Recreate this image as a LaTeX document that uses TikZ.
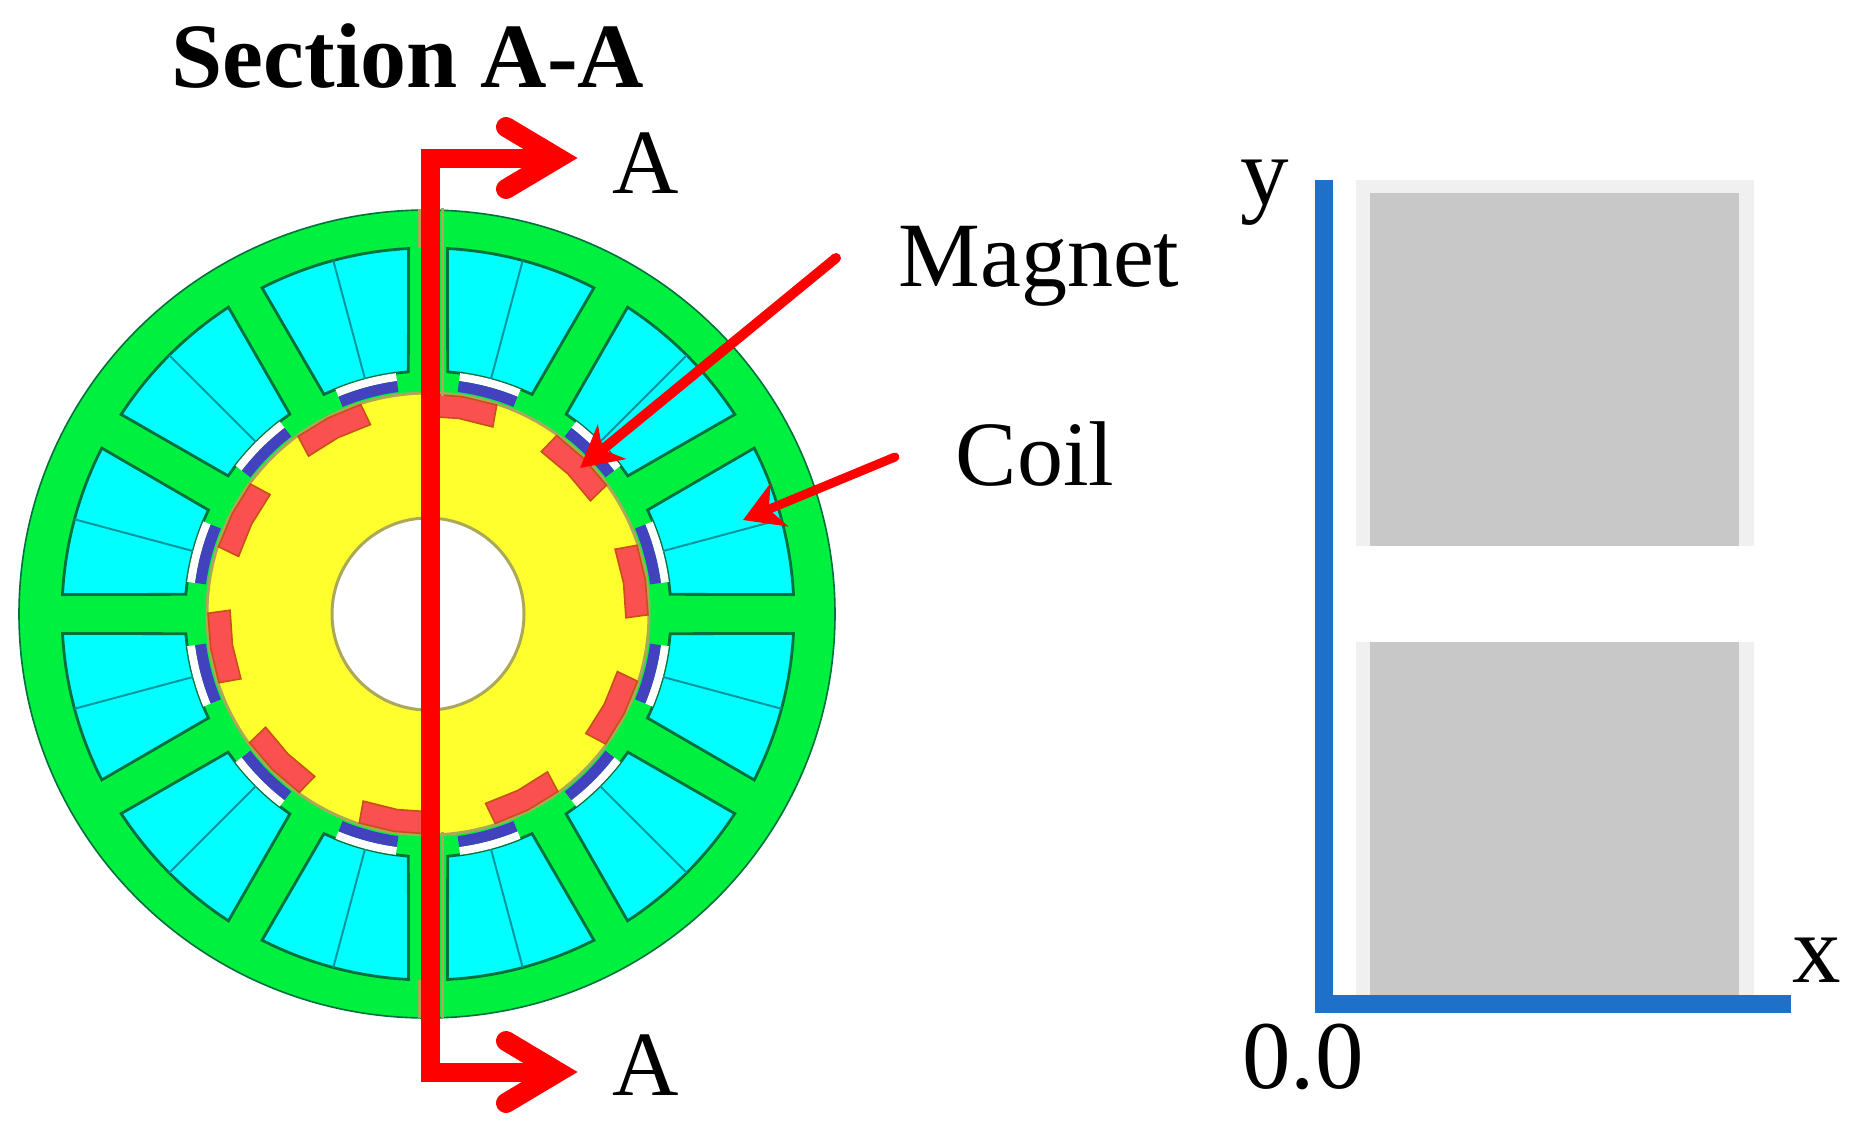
\documentclass[tikz,border=0pt]{standalone}
\usepackage{fontspec}
\setmainfont{Liberation Serif}
\usetikzlibrary{arrows.meta}
\definecolor{statorgreen}{RGB}{0,240,64}
\definecolor{slotedge}{RGB}{0,112,60}
\definecolor{coilcyan}{RGB}{0,255,255}
\definecolor{coilmid}{RGB}{0,150,160}
\definecolor{gapblue}{RGB}{66,66,190}
\definecolor{rotoryellow}{RGB}{255,255,45}
\definecolor{olive}{RGB}{172,168,90}
\definecolor{magnetred}{RGB}{250,80,80}
\definecolor{magnetedge}{RGB}{200,80,20}
\definecolor{axisblue}{RGB}{30,112,200}
\definecolor{lightgrey}{RGB}{240,240,240}
\definecolor{midgrey}{RGB}{200,200,200}
\tikzset{
  x=1pt,y=-1pt,
  label text/.style={inner sep=0pt,anchor=base,font=\fontsize{92}{92}\selectfont},
  axis text/.style={inner sep=0pt,anchor=base,font=\fontsize{97}{97}\selectfont},
  title text/.style={inner sep=0pt,anchor=base,font=\fontsize{92}{92}\selectfont\bfseries},
  redpath/.style={draw=red,line width=19pt,line join=miter},
  chevron/.style={draw=red,line width=20pt,line cap=round,line join=miter},
  pointer/.style={draw=red,line width=10pt,line cap=round},
  axisline/.style={draw=axisblue,line width=18pt,line join=miter},
  slotshape/.style={fill=coilcyan,draw=slotedge,line width=2.8pt,line join=miter},
  coilmidline/.style={draw=coilmid,line width=2pt},
  magnetshape/.style={fill=magnetred,draw=magnetedge,line width=1.6pt,line join=miter},
}
\begin{document}
\begin{tikzpicture}
\useasboundingbox (0,0) rectangle (1860,1135);
\fill[white] (0,0) rectangle (1860,1135);

% stator
\draw[fill=statorgreen,draw=slotedge,line width=1.6pt] (427,614) ellipse [x radius=408,y radius=404];

\begin{scope}[shift={(428,614)},y=1pt]
  % slots, coils, air gap pieces
  \foreach \k in {0,...,11}{
    \pgfmathsetmacro{\t}{30*\k}
    \pgfmathsetmacro{\aA}{\t+3.04}
    \pgfmathsetmacro{\aB}{\t+26.96}
    \pgfmathsetmacro{\bA}{\t+4.65}
    \pgfmathsetmacro{\bB}{\t+25.35}
    \pgfmathsetmacro{\cA}{\t+7.6}
    \pgfmathsetmacro{\cB}{\t+22.4}
    \pgfmathsetmacro{\m}{\t+15}
    \draw[slotshape] (\cA:243) -- (\bA:243) -- (\aA:366)
       arc[start angle=\aA,end angle=\aB,radius=366]
       -- (\bB:243) -- (\cB:243)
       arc[start angle=\cB,end angle=\cA,radius=243] -- cycle;
    \draw[coilmidline] (\m:243) -- (\m:366);
    \draw[draw=white,line width=8pt] (\cA:239) arc[start angle=\cA,end angle=\cB,radius=239];
    \draw[draw=gapblue,line width=11pt] (\cA:229.5) arc[start angle=\cA,end angle=\cB,radius=229.5];
  }
  % rotor
  \draw[fill=rotoryellow,draw=olive,line width=3pt] (0,0) circle[radius=221];
  % magnets
  \foreach \c in {81,45,9,-27,-63,-99,-135,-171,153,117}{
    \pgfmathsetmacro{\mA}{\c-9.2}
    \pgfmathsetmacro{\mB}{\c+9.2}
    \pgfmathsetmacro{\nA}{\c-10.1}
    \pgfmathsetmacro{\nB}{\c+10.1}
    \draw[magnetshape] (\mA:220) -- (\c:220) -- (\mB:220) -- (\nB:198) -- (\c:198) -- (\nA:198) -- cycle;
  }
  % bore
  \draw[fill=white,draw=olive,line width=3pt] (0,0) circle[radius=96];
\end{scope}

% thin olive cut lines next to the section line
\draw[olive,line width=3pt] (442.5,208) -- (442.5,396);
\draw[olive,line width=3pt] (442.5,832) -- (442.5,1018);
\draw[olive,line width=3pt] (419,209) -- (419,248);
\draw[olive,line width=3pt] (419,980) -- (419,1018);

% section line
\coordinate (secTopEnd) at (558,158);
\coordinate (secTop) at (430.5,158);
\coordinate (secBot) at (430.5,1072);
\coordinate (secBotEnd) at (558,1072);
\coordinate (chevTopA) at (506,127);
\coordinate (chevTopB) at (506,189);
\coordinate (chevBotA) at (506,1041);
\coordinate (chevBotB) at (506,1103);
\draw[redpath] (secTopEnd) -- (secTop) -- (secBot) -- (secBotEnd);
\draw[chevron] (chevTopA) -- (secTopEnd) -- (chevTopB);
\draw[chevron] (chevBotA) -- (secBotEnd) -- (chevBotB);

% pointers
\coordinate (magTail) at (836,258);
\coordinate (magTip) at (580,468);
\coordinate (coilTail) at (895,457);
\coordinate (coilTip) at (743,520);
\draw[pointer,-{Stealth[length=41pt,width=44pt,inset=12pt]}] (magTail) -- (magTip);
\draw[pointer,line width=9pt,-{Stealth[length=39pt,width=46pt,inset=11pt]}] (coilTail) -- (coilTip);

% right panel
\fill[lightgrey] (1356,180) rectangle (1754,546);
\fill[lightgrey] (1356,642) rectangle (1754,995);
\fill[midgrey] (1370,193) rectangle (1739,546);
\fill[midgrey] (1370,642) rectangle (1739,995);
\coordinate (axisTop) at (1324,180);
\coordinate (axisOrigin) at (1324,1004);
\coordinate (axisEnd) at (1791,1004);
\draw[axisline] (axisTop) -- (axisOrigin) -- (axisEnd);

% texts
\node[title text] (title) at (408,87) {Section A-A};
\node[label text] (aTop) at (646,193) {A};
\node[label text] (aBot) at (646,1095) {A};
\node[label text] (magnet) at (1039,286) {Magnet};
\node[label text] (coil) at (1035,485) {Coil};
\node[axis text] (yl) at (1265,204) {y};
\node[axis text] (xl) at (1817,982) {x};
\node[axis text] (zero) at (1303,1088) {0.0};
\end{tikzpicture}
\end{document}
